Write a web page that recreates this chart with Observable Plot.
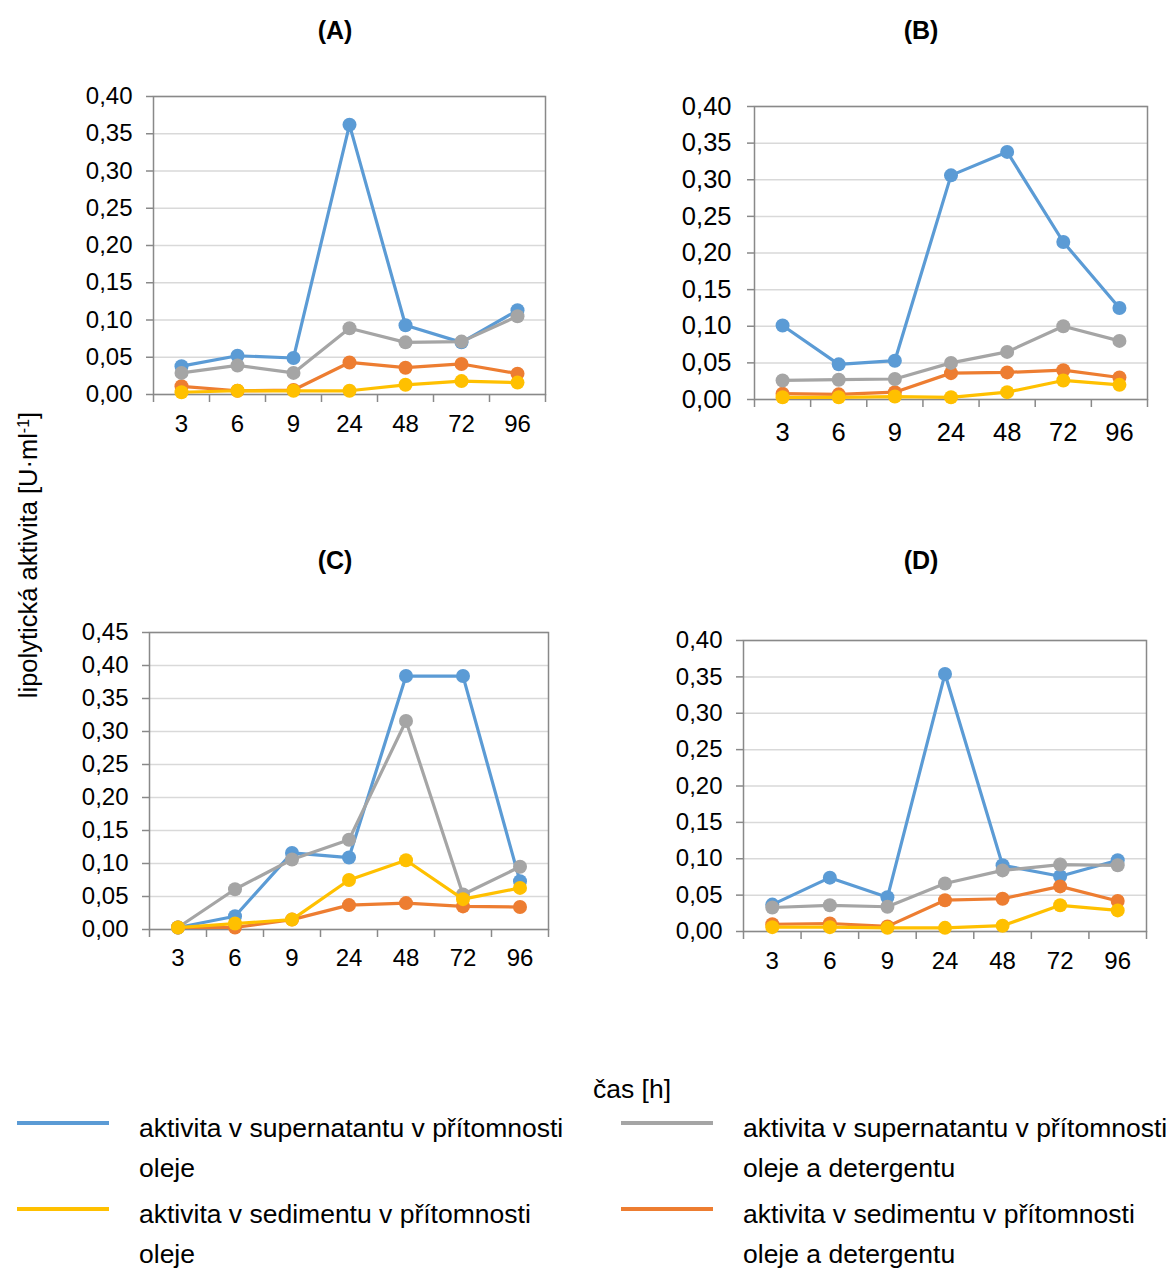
<!DOCTYPE html>
<html>
<head>
<meta charset="utf-8">
<script src="https://cdn.jsdelivr.net/npm/d3@7"></script>
<script src="https://cdn.jsdelivr.net/npm/@observablehq/plot@0.6"></script>
<style>
  html, body { margin: 0; padding: 0; background: #fff; }
  #root { position: relative; width: 1174px; height: 1270px; overflow: hidden; font-family: "Liberation Sans", Arial, sans-serif; }
  .panel { position: absolute; }
  #overlay { position: absolute; left: 0; top: 0; }
</style>
</head>
<body>
<div id="root"></div>
<script>
// ---------------- data ----------------
const times = ["3", "6", "9", "24", "48", "72", "96"];

const seriesLabels = [
  "aktivita v supernatantu v přítomnosti oleje",
  "aktivita v sedimentu v přítomnosti oleje a detergentu",
  "aktivita v supernatantu v přítomnosti oleje a detergentu",
  "aktivita v sedimentu v přítomnosti oleje"
];
const seriesColors = ["#5B9BD5", "#ED7D31", "#A5A5A5", "#FFC000"];

// (A)
const aSupOil    = [0.038, 0.052, 0.049, 0.362, 0.093, 0.070, 0.113];
const aSedOilDet = [0.011, 0.005, 0.006, 0.043, 0.036, 0.041, 0.028];
const aSupOilDet = [0.029, 0.039, 0.029, 0.089, 0.070, 0.071, 0.105];
const aSedOil    = [0.003, 0.005, 0.005, 0.005, 0.013, 0.018, 0.016];
// (B)
const bSupOil    = [0.101, 0.048, 0.053, 0.306, 0.338, 0.215, 0.125];
const bSedOilDet = [0.008, 0.007, 0.010, 0.036, 0.037, 0.040, 0.030];
const bSupOilDet = [0.026, 0.027, 0.028, 0.050, 0.065, 0.100, 0.080];
const bSedOil    = [0.003, 0.003, 0.004, 0.003, 0.010, 0.026, 0.020];
// (C)
const cSupOil    = [0.003, 0.020, 0.116, 0.109, 0.384, 0.384, 0.073];
const cSedOilDet = [0.003, 0.003, 0.015, 0.037, 0.040, 0.035, 0.034];
const cSupOilDet = [0.003, 0.061, 0.106, 0.136, 0.316, 0.053, 0.095];
const cSedOil    = [0.003, 0.009, 0.015, 0.075, 0.105, 0.046, 0.063];
// (D)
const dSupOil    = [0.037, 0.074, 0.047, 0.354, 0.091, 0.076, 0.098];
const dSedOilDet = [0.010, 0.011, 0.007, 0.043, 0.045, 0.062, 0.042];
const dSupOilDet = [0.033, 0.036, 0.034, 0.066, 0.084, 0.092, 0.091];
const dSedOil    = [0.006, 0.006, 0.005, 0.005, 0.008, 0.036, 0.029];

const panelTitles = ["(A)", "(B)", "(C)", "(D)"];
const panelMax = [0.40, 0.40, 0.45, 0.40];
const panelSeries = [
  [aSupOil, aSedOilDet, aSupOilDet, aSedOil],
  [bSupOil, bSedOilDet, bSupOilDet, bSedOil],
  [cSupOil, cSedOilDet, cSupOilDet, cSedOil],
  [dSupOil, dSedOilDet, dSupOilDet, dSedOil]
];

// ---------------- layout ----------------
const FONT = '"Liberation Sans", Arial, sans-serif';
const layout = [
  {L: 153, R: 545, T: 96,  B: 394, font: 24,   xoff: 20, ygap: 21, tx: 335, ty: 39},
  {L: 754, R: 1147, T: 106, B: 399, font: 25.5, xoff: 23, ygap: 23, tx: 921, ty: 39},
  {L: 149, R: 548, T: 632, B: 929, font: 24,   xoff: 19, ygap: 21, tx: 335, ty: 569},
  {L: 743, R: 1146, T: 640, B: 931, font: 24,   xoff: 20, ygap: 21, tx: 921, ty: 569}
];
const axisGray = "#898989";
const gridGray = "#d9d9d9";

const root = document.getElementById("root");

panelSeries.forEach((series, p) => {
  const g = layout[p];
  const mL = 110, mT = 20, mR = 20, mB = 60;
  const width = (g.R - g.L) + mL + mR;
  const height = (g.B - g.T) + mT + mB;
  const yTicks = d3.range(0, panelMax[p] + 1e-9, 0.05).map(v => +v.toFixed(2));
  const fmt = v => v.toFixed(2).replace(".", ",");

  const marks = [
    Plot.gridY(yTicks, {stroke: gridGray, strokeOpacity: 1, strokeWidth: 1.5}),
    Plot.frame({stroke: axisGray, strokeWidth: 1.5}),
    Plot.axisY(yTicks, {tickSize: 7, tickPadding: g.ygap - 7, tickFormat: fmt, stroke: axisGray,
      strokeWidth: 1.5, fontSize: g.font, label: null, fill: "#000"}),
    Plot.axisX(d3.range(-0.5, times.length, 1), {tickSize: 8, tickFormat: () => "", stroke: axisGray,
      strokeWidth: 1.5, label: null}),
    Plot.axisX(d3.range(times.length), {tickSize: 0, tickPadding: g.xoff, tickFormat: i => times[i],
      fontSize: g.font, label: null, fill: "#000"})
  ];
  series.forEach((vals, s) => {
    const data = vals.map((v, i) => ({i, v, t: times[i]}));
    marks.push(Plot.line(data, {x: "i", y: "v", stroke: seriesColors[s], strokeWidth: 3.2}));
    marks.push(Plot.dot(data, {x: "i", y: "v", fill: seriesColors[s], r: 7}));
  });

  const chart = Plot.plot({
    width, height,
    marginLeft: mL, marginTop: mT, marginRight: mR, marginBottom: mB,
    x: {type: "linear", domain: [-0.5, times.length - 0.5]},
    y: {domain: [0, panelMax[p]]},
    style: {fontFamily: FONT, fontSize: g.font + "px", color: "#000", background: "transparent", overflow: "visible"},
    marks
  });
  const wrap = document.createElement("div");
  wrap.className = "panel";
  wrap.style.left = (g.L - mL) + "px";
  wrap.style.top = (g.T - mT) + "px";
  wrap.appendChild(chart);
  root.appendChild(wrap);
});

// ---------------- overlay: titles, axis titles, legend ----------------
const svg = d3.select(root).append("svg").attr("id", "overlay")
  .attr("width", 1174).attr("height", 1270)
  .style("font-family", FONT).style("pointer-events", "none");

layout.forEach((g, p) => {
  svg.append("text").attr("x", g.tx).attr("y", g.ty).attr("text-anchor", "middle")
    .attr("font-weight", "bold").attr("font-size", 25).text(panelTitles[p]);
});

const yl = svg.append("text").attr("transform", "translate(37,555) rotate(-90)")
  .attr("text-anchor", "middle").attr("font-size", 25.5);
yl.append("tspan").text("lipolytická aktivita [U·ml");
yl.append("tspan").attr("baseline-shift", "super").attr("font-size", 16).text("-1");
yl.append("tspan").text("]");

svg.append("text").attr("x", 593).attr("y", 1098).attr("font-size", 26.5).text("čas [h]");

const legendItems = [
  {s: 0, lx: 17, tx: 139, ly: 1123, lines: ["aktivita v supernatantu v přítomnosti", "oleje"]},
  {s: 3, lx: 17, tx: 139, ly: 1209, lines: ["aktivita v sedimentu v přítomnosti", "oleje"]},
  {s: 2, lx: 621, tx: 743, ly: 1123, lines: ["aktivita v supernatantu v přítomnosti", "oleje a detergentu"]},
  {s: 1, lx: 621, tx: 743, ly: 1209, lines: ["aktivita v sedimentu v přítomnosti", "oleje a detergentu"]}
];
legendItems.forEach(it => {
  svg.append("line").attr("x1", it.lx).attr("x2", it.lx + 92).attr("y1", it.ly).attr("y2", it.ly)
    .attr("stroke", seriesColors[it.s]).attr("stroke-width", 4);
  it.lines.forEach((t, k) => {
    svg.append("text").attr("x", it.tx).attr("y", it.ly + 14 + k * 40).attr("font-size", 26.5).text(t);
  });
});
</script>
</body>
</html>
